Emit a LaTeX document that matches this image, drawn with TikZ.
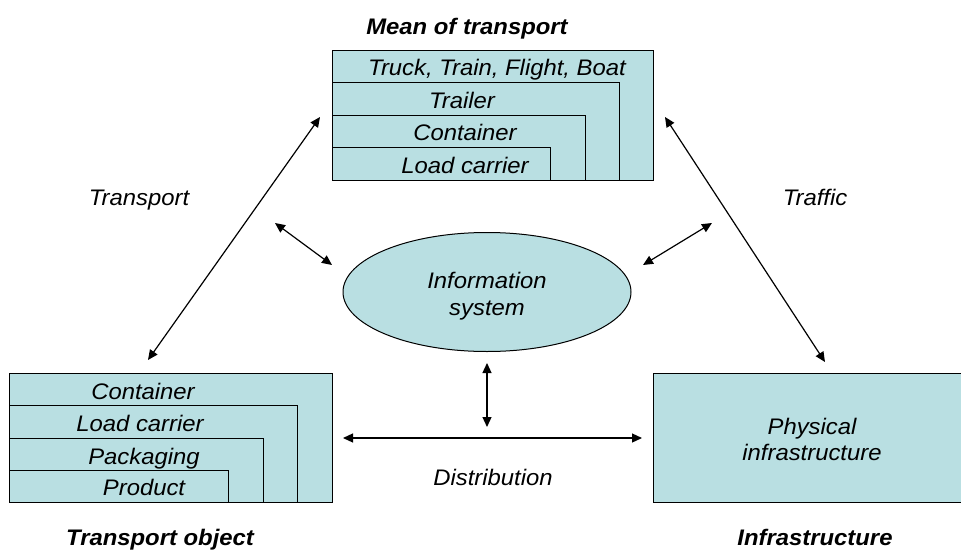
\documentclass[tikz,border=0pt]{standalone}
\usepackage{fontspec}
\setmainfont{Liberation Sans}[FakeStretch=1.06]
\usetikzlibrary{shapes.geometric,arrows.meta}
\definecolor{boxfill}{RGB}{185,223,226}
\tikzset{
  lay/.style={draw=black, line width=1pt, fill=boxfill, inner sep=0pt, anchor=north west},
  lbl/.style={inner sep=0pt, text height=16.1pt, text depth=0pt, font=\fontsize{22.5}{26.5}\selectfont\itshape},
  ttl/.style={inner sep=0pt, text height=16.1pt, text depth=0pt, font=\fontsize{22.5}{26.5}\selectfont\bfseries\itshape},
  arr/.style={line width=1.2pt, {Triangle[length=10pt,width=9pt]}-{Triangle[length=10pt,width=9pt]}}
}
\begin{document}
\begin{tikzpicture}[x=1pt,y=-1pt]
\useasboundingbox (0,0) rectangle (961,551);
% Mean of transport
\node[ttl] (tmt) at (467,26) {Mean of transport};
\node[lay, minimum width=321pt, minimum height=130pt] (mt4) at (332,50) {};
\node[lay, minimum width=287pt, minimum height=98pt] (mt3) at (332,82) {};
\node[lay, minimum width=253pt, minimum height=65pt] (mt2) at (332,115) {};
\node[lay, minimum width=218pt, minimum height=33pt] (mt1) at (332,147) {};
\node[lbl] (l4) at (497,67) {Truck, Train, Flight, Boat};
\node[lbl] (l3) at (462,100) {Trailer};
\node[lbl] (l2) at (465,132) {Container};
\node[lbl] (l1) at (465,165) {Load carrier};
% Transport object
\node[lay, minimum width=323pt, minimum height=129pt] (to4) at (9,373) {};
\node[lay, minimum width=288pt, minimum height=97pt] (to3) at (9,405) {};
\node[lay, minimum width=254pt, minimum height=64pt] (to2) at (9,438) {};
\node[lay, minimum width=219pt, minimum height=32pt] (to1) at (9,470) {};
\node[lbl] (o4) at (143,391) {Container};
\node[lbl] (o3) at (140,423) {Load carrier};
\node[lbl] (o2) at (144,456) {Packaging};
\node[lbl] (o1) at (144,487) {Product};
\node[ttl] (tto) at (160,537) {Transport object};
% Infrastructure
\node[lay, minimum width=320pt, minimum height=129pt] (pi) at (653,373) {};
\node[lbl, anchor=base] (pi1) at (812,434) {Physical};
\node[lbl, anchor=base] (pi2) at (812,460) {infrastructure};
\node[ttl] (tin) at (815,537) {Infrastructure};
% Information system
\node[ellipse, draw=black, line width=1pt, fill=boxfill, minimum width=288pt, minimum height=119pt,
      inner sep=0pt] (is) at (487,292) {};
\node[lbl, anchor=base] (is1) at (487,288) {Information};
\node[lbl, anchor=base] (is2) at (487,315) {system};
% labels
\node[lbl] (ltr) at (139,197) {Transport};
\node[lbl] (ltf) at (815,197) {Traffic};
\node[lbl] (ldi) at (493,477) {Distribution};
% arrow end points
\coordinate (a1) at (148,360); \coordinate (a2) at (320,117);
\coordinate (b1) at (275,223); \coordinate (b2) at (332,265);
\coordinate (c1) at (712,223); \coordinate (c2) at (643,265);
\coordinate (d1) at (665,117); \coordinate (d2) at (825,362);
\coordinate (e1) at (487,363); \coordinate (e2) at (487,427);
\coordinate (f1) at (343,438); \coordinate (f2) at (642,438);
\draw[arr] (a1) -- (a2);
\draw[arr] (b1) -- (b2);
\draw[arr] (c1) -- (c2);
\draw[arr] (d1) -- (d2);
\draw[arr] (e1) -- (e2);
\draw[arr] (f1) -- (f2);
\end{tikzpicture}
\end{document}
